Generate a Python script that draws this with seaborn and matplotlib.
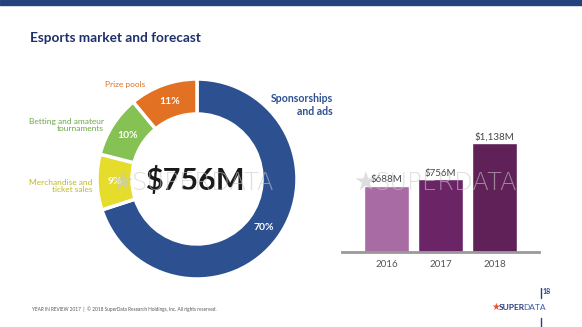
import matplotlib
matplotlib.use("Agg")
import matplotlib.pyplot as plt
import seaborn as sns
import pandas as pd

sns.set_theme(style="white")
plt.rcParams["font.family"] = ["Lato", "DejaVu Sans"]

# Revenue split of the esports market (share of total, %)
segments = ["Sponsorships and ads", "Merchandise and ticket sales",
            "Betting and amateur tournaments", "Prize pools"]
shares = [70, 9, 10, 11]
segment_colors = ["#2d5190", "#e5dc2b", "#86c153", "#e27124"]
total_label = "$756M"

# Market size by year (USD millions)
years = ["2016", "2017", "2018"]
revenue = [688, 756, 1138]
revenue_labels = ["$688M", "$756M", "$1,138M"]
bar_colors = ["#a86ba4", "#6b2567", "#5f2157"]

W, H = 582, 327
fig = plt.figure(figsize=(W / 100, H / 100), dpi=100)
fig.patch.set_facecolor("white")


def px_axes(x0, y0, w, h):
    """Axes placed by pixel box (top-left origin)."""
    return fig.add_axes([x0 / W, 1 - (y0 + h) / H, w / W, h / H])


# Header band and title
fig.patches.append(plt.Rectangle((0, 1 - 5 / H), 1, 5 / H, transform=fig.transFigure,
                                 color="#27417f", zorder=0))
fig.text(30 / W, 1 - 38 / H, "Esports market and forecast", fontsize=9.8,
         fontweight="bold", color="#1f2f6b", va="center", ha="left")

# Donut chart
cx, cy, r = 197, 179, 100
ax = px_axes(cx - r, cy - r, 2 * r, 2 * r)
wedges, _, autotexts = ax.pie(
    shares, colors=segment_colors, startangle=90, counterclock=False,
    radius=1.0, autopct="%d%%", pctdistance=0.82,
    wedgeprops=dict(width=0.35, edgecolor="white", linewidth=2.5),
    textprops=dict(color="white", fontsize=7.5, fontweight="bold"))
ax.set_xlim(-1, 1)
ax.set_ylim(-1, 1)
ax.set_aspect("equal")
ax.axis("off")
ax.text(-0.02, -0.02, total_label, ha="center", va="center", fontsize=22,
        fontweight="bold", color="#1a1a1a", zorder=5)

# Segment captions
fig.text(333 / W, 1 - 105 / H, "Sponsorships\nand ads", ha="right", va="center",
         fontsize=7.6, fontweight="bold", color="#2d5190", linespacing=1.2)
fig.text(125 / W, 1 - 84 / H, "Prize pools", ha="center", va="center",
         fontsize=6, color="#e27124")
fig.text(104 / W, 1 - 125 / H, "Betting and amateur\ntournaments", ha="right",
         va="center", fontsize=6, color="#6aa843", linespacing=1.1)
fig.text(92 / W, 1 - 186 / H, "Merchandise and\nticket sales", ha="right",
         va="center", fontsize=6, color="#c2b823", linespacing=1.1)

# Bar chart of yearly revenue
bx = px_axes(342, 130, 197, 122)
df = pd.DataFrame({"year": years, "revenue": revenue})
sns.barplot(data=df, x="year", y="revenue", hue="year", palette=bar_colors,
            legend=False, width=0.83, saturation=1, ax=bx)
bx.set_xlim(-0.82, 2.82)
bx.set_ylim(0, 1270)
for i, (v, lab) in enumerate(zip(revenue, revenue_labels)):
    bx.text(i, v + 15, lab, ha="center", va="bottom", fontsize=7, color="#444444")
for s in ["top", "right", "left"]:
    bx.spines[s].set_visible(False)
bx.spines["bottom"].set_color("#999999")
bx.spines["bottom"].set_linewidth(2)
bx.set_yticks([])
bx.set_xlabel("")
bx.set_ylabel("")
bx.tick_params(axis="x", length=0, pad=6, labelsize=7, labelcolor="#555555")
bx.set_facecolor("none")

# Watermarks
for x0 in (110, 353):
    fig.text(x0 / W, 1 - 183 / H, "\u2605", ha="left", va="center",
             fontsize=19, color="#c8c8c8", alpha=0.6, zorder=10,
             family=["DejaVu Sans"])
    fig.text((x0 + 22) / W, 1 - 183 / H, "SUPERDATA", ha="left", va="center",
             fontsize=17.5, fontweight="light", color="#c8c8c8", alpha=0.6,
             zorder=10, family=["DejaVu Sans"])

# Footer
fig.text(32 / W, 1 - 309 / H,
         "YEAR IN REVIEW 2017  |  \u00a9 2018 SuperData Research Holdings, Inc. All rights reserved.",
         ha="left", va="center", fontsize=3.4, color="#555555")
fig.lines.append(plt.Line2D([541 / W, 541 / W], [1 - 288 / H, 1 - 298 / H],
                            transform=fig.transFigure, color="#2d3f7a", lw=1))
fig.lines.append(plt.Line2D([541 / W, 541 / W], [1 - 318 / H, 1 - 327 / H],
                            transform=fig.transFigure, color="#2d3f7a", lw=1))
fig.text(543 / W, 1 - 292 / H, "18", ha="left", va="center", fontsize=5,
         fontweight="bold", color="#2d3f7a")
fig.text(491 / W, 1 - 307 / H, "\u2605", ha="left", va="center", fontsize=7,
         color="#e8542a", family=["DejaVu Sans"])
fig.text(499 / W, 1 - 307 / H, "SUPER", ha="left", va="center", fontsize=6,
         fontweight="bold", color="#2d3f7a")
fig.text(523 / W, 1 - 307 / H, "DATA", ha="left", va="center", fontsize=6,
         color="#3b5ba5")

fig.savefig("out.png", dpi=100, facecolor="white")
